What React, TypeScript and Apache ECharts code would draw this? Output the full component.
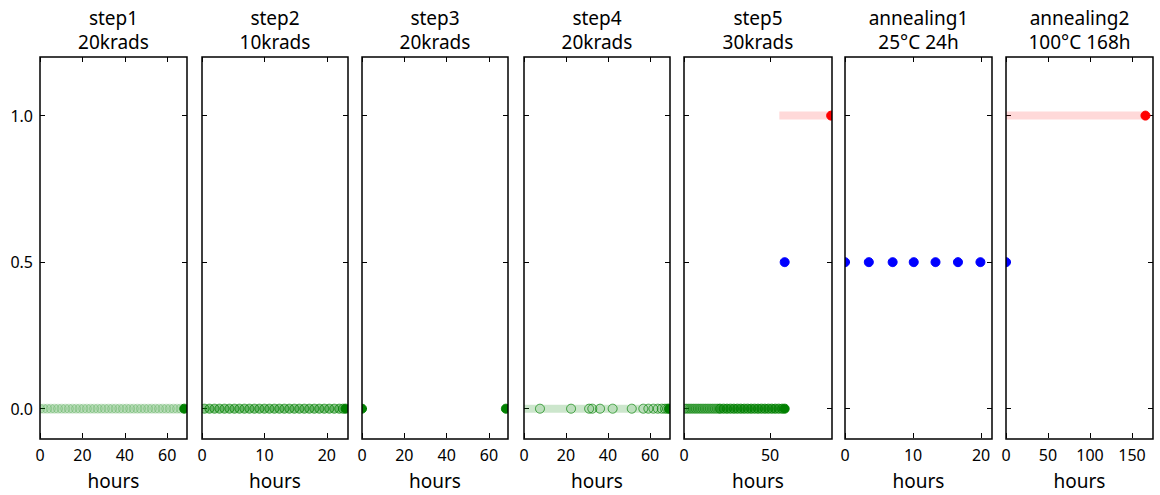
import React, { useEffect, useRef } from "react";
import * as echarts from "echarts";

// ---------- data ----------
const panelTitles = [
  "step1\n20krads",
  "step2\n10krads",
  "step3\n20krads",
  "step4\n20krads",
  "step5\n30krads",
  "annealing1\n25°C 24h",
  "annealing2\n100°C 168h",
];
const xMaxes = [69.3, 23.4, 69, 69.5, 86, 21.6, 175];
const xTickValues = [
  [0, 20, 40, 60],
  [0, 10, 20],
  [0, 20, 40, 60],
  [0, 20, 40, 60],
  [0, 50],
  [0, 10, 20],
  [0, 50, 100, 150],
];
const yTickValues = [0, 0.5, 1.0];
const yMin = -0.1;
const yMax = 1.2;
const xAxisName = "hours";

// status levels
const LEVEL_OK = 0;
const LEVEL_MID = 0.5;
const LEVEL_FAIL = 1.0;

// step1
const step1Band = [0, 68];
const step1Faint = [0, 1.7, 3.4, 5.1, 6.8, 8.5, 10.2, 11.9, 13.6, 15.3, 17, 18.7, 20.4, 22.1, 23.8, 25.5, 27.2, 28.9, 30.6, 32.3, 34, 35.7, 37.4, 39.1, 40.8, 42.5, 44.2, 45.9, 47.6, 49.3, 51, 52.7, 54.4, 56.1, 57.8, 59.5, 61.2, 62.9, 64.6, 66.3];
const step1End = [68];
// step2
const step2Band = [0, 23];
const step2Points = [0.4, 1.2, 2.0, 2.8, 3.6, 4.4, 5.2, 6.0, 6.8, 7.6, 8.4, 9.2, 10.0, 10.8, 11.6, 12.4, 13.2, 14.0, 14.8, 15.6, 16.4, 17.2, 18.0, 18.8, 19.6, 20.4, 21.2, 22.0, 22.6];
const step2End = [23];
// step3
const step3Points = [0, 68];
// step4
const step4Band = [0, 69.5];
const step4Points = [7.6, 22.4, 31, 32.5, 36.2, 42.2, 51.3, 56.8, 59.2, 61.6, 63.7, 65.6, 67.1, 68.2];
const step4End = [69];
// step5
const step5Band = [0, 58.5];
const step5Light = [0, 1, 2, 3, 4, 5, 6, 7, 8, 9, 10, 11, 12, 13, 14, 15, 16, 17, 18, 19, 20];
const step5Dark = [21, 23, 25, 27, 29, 31, 33, 35, 37, 39, 41, 43, 45, 47, 49, 51, 53, 55, 57];
const step5End = [58.5];
const step5Mid = [58.5];
const step5FailBand = [55.4, 86];
const step5Fail = [85.5];
// annealing1
const anneal1Mid = [0, 3.5, 7, 10.1, 13.3, 16.6, 19.9];
// annealing2
const anneal2Mid = [0];
const anneal2FailBand = [0, 166];
const anneal2Fail = [166];

// ---------- layout / style ----------
const gridLefts = [40, 202, 362, 524, 684, 845, 1006];
const gridWidths = [147, 146, 146, 146, 148, 147, 147];
const gridTop = 57;
const gridHeight = 382;

const GREEN = "0,128,0";
const BLUE = "0,0,255";
const RED = "255,0,0";
const FONT = '"Noto Sans", "Open Sans", sans-serif';

type Band = { panel: number; xs: number[]; y: number; rgb: string; opacity: number };
type Dots = { panel: number; xs: number[]; y: number; rgb: string; fill: number; edge: number };

const bands: Band[] = [
  { panel: 0, xs: step1Band, y: LEVEL_OK, rgb: GREEN, opacity: 0.2 },
  { panel: 1, xs: step2Band, y: LEVEL_OK, rgb: GREEN, opacity: 0.2 },
  { panel: 3, xs: step4Band, y: LEVEL_OK, rgb: GREEN, opacity: 0.2 },
  { panel: 4, xs: step5Band, y: LEVEL_OK, rgb: GREEN, opacity: 0.12 },
  { panel: 4, xs: step5FailBand, y: LEVEL_FAIL, rgb: RED, opacity: 0.15 },
  { panel: 6, xs: anneal2FailBand, y: LEVEL_FAIL, rgb: RED, opacity: 0.15 },
];

const dots: Dots[] = [
  { panel: 0, xs: step1Faint, y: LEVEL_OK, rgb: GREEN, fill: 0.05, edge: 0.2 },
  { panel: 0, xs: step1End, y: LEVEL_OK, rgb: GREEN, fill: 1, edge: 1 },
  { panel: 1, xs: step2Points, y: LEVEL_OK, rgb: GREEN, fill: 0.3, edge: 0.75 },
  { panel: 1, xs: step2End, y: LEVEL_OK, rgb: GREEN, fill: 1, edge: 1 },
  { panel: 2, xs: step3Points, y: LEVEL_OK, rgb: GREEN, fill: 1, edge: 1 },
  { panel: 3, xs: step4Points, y: LEVEL_OK, rgb: GREEN, fill: 0.08, edge: 0.7 },
  { panel: 3, xs: step4End, y: LEVEL_OK, rgb: GREEN, fill: 1, edge: 1 },
  { panel: 4, xs: step5Light, y: LEVEL_OK, rgb: GREEN, fill: 0.15, edge: 0.45 },
  { panel: 4, xs: step5Dark, y: LEVEL_OK, rgb: GREEN, fill: 0.55, edge: 0.9 },
  { panel: 4, xs: step5End, y: LEVEL_OK, rgb: GREEN, fill: 1, edge: 1 },
  { panel: 4, xs: step5Mid, y: LEVEL_MID, rgb: BLUE, fill: 1, edge: 1 },
  { panel: 4, xs: step5Fail, y: LEVEL_FAIL, rgb: RED, fill: 1, edge: 1 },
  { panel: 5, xs: anneal1Mid, y: LEVEL_MID, rgb: BLUE, fill: 1, edge: 1 },
  { panel: 6, xs: anneal2Mid, y: LEVEL_MID, rgb: BLUE, fill: 1, edge: 1 },
  { panel: 6, xs: anneal2Fail, y: LEVEL_FAIL, rgb: RED, fill: 1, edge: 1 },
];

function buildOption() {
  const grid: any[] = [];
  const xAxis: any[] = [];
  const yAxis: any[] = [];
  const n = panelTitles.length;
  for (let i = 0; i < n; i++) {
    grid.push({ left: gridLefts[i], top: gridTop, width: gridWidths[i], height: gridHeight, show: false });
    const tickStyle = { show: true, inside: true, length: 5, lineStyle: { color: "#000", width: 1 }, customValues: xTickValues[i] };
    xAxis.push({
      type: "value",
      gridIndex: i,
      min: 0,
      max: xMaxes[i],
      position: "bottom",
      splitLine: { show: false },
      axisLine: { show: false, onZero: false },
      axisTick: tickStyle,
      axisLabel: {
        show: true,
        customValues: xTickValues[i],
        color: "#000",
        fontSize: 16,
        fontFamily: FONT,
        margin: 9,
      },
      name: xAxisName,
      nameLocation: "middle",
      nameGap: 33,
      nameTextStyle: { color: "#000", fontSize: 19, fontFamily: FONT },
    });
    xAxis.push({
      type: "value",
      gridIndex: i,
      min: 0,
      max: xMaxes[i],
      position: "top",
      splitLine: { show: false },
      axisLine: { show: false, onZero: false },
      axisTick: tickStyle,
      axisLabel: { show: false },
    });
    const yTick = { show: true, inside: true, length: 5, lineStyle: { color: "#000", width: 1 }, customValues: yTickValues };
    yAxis.push({
      type: "value",
      gridIndex: i,
      min: yMin,
      max: yMax,
      position: "left",
      splitLine: { show: false },
      axisLine: { show: false, onZero: false },
      axisTick: yTick,
      axisLabel: {
        show: i === 0,
        customValues: yTickValues,
        formatter: (v: number) => v.toFixed(1),
        color: "#000",
        fontSize: 16,
        fontFamily: FONT,
        margin: 7,
      },
    });
    yAxis.push({
      type: "value",
      gridIndex: i,
      min: yMin,
      max: yMax,
      position: "right",
      splitLine: { show: false },
      axisLine: { show: false, onZero: false },
      axisTick: yTick,
      axisLabel: { show: false },
    });
  }

  const series: any[] = [];
  bands.forEach((b) => {
    series.push({
      type: "line",
      xAxisIndex: b.panel * 2,
      yAxisIndex: b.panel * 2,
      data: b.xs.map((x) => [x, b.y]),
      showSymbol: false,
      symbol: "none",
      lineStyle: { color: `rgba(${b.rgb},${b.opacity})`, width: 8, cap: "butt", opacity: 1 },
      silent: true,
      z: 1,
    });
  });
  dots.forEach((d) => {
    series.push({
      type: "scatter",
      xAxisIndex: d.panel * 2,
      yAxisIndex: d.panel * 2,
      data: d.xs.map((x) => [x, d.y]),
      symbol: "circle",
      symbolSize: 9,
      clip: false,
      itemStyle: {
        color: `rgba(${d.rgb},${d.fill})`,
        borderColor: `rgba(${d.rgb},${d.edge})`,
        borderWidth: 1,
        opacity: 1,
      },
      emphasis: { disabled: true },
      z: 3,
    });
  });

  const graphic: any[] = [];
  // white masks in the gaps (clip markers at panel edges)
  const maskEdges: number[][] = [];
  maskEdges.push([34, gridLefts[0]]);
  for (let i = 0; i < n - 1; i++) {
    maskEdges.push([gridLefts[i] + gridWidths[i], gridLefts[i + 1]]);
  }
  maskEdges.push([gridLefts[n - 1] + gridWidths[n - 1], 1160]);
  maskEdges.forEach(([a, b]) => {
    graphic.push({
      type: "rect",
      z: 100,
      silent: true,
      shape: { x: a, y: gridTop - 6, width: b - a, height: gridHeight + 12 },
      style: { fill: "#fff" },
    });
  });
  for (let i = 0; i < n; i++) {
    graphic.push({
      type: "rect",
      z: 101,
      silent: true,
      shape: { x: gridLefts[i], y: gridTop, width: gridWidths[i], height: gridHeight },
      style: { fill: "none", stroke: "#000", lineWidth: 1.5 },
    });
    graphic.push({
      type: "text",
      z: 101,
      x: gridLefts[i] + gridWidths[i] / 2,
      y: 6,
      style: {
        text: panelTitles[i],
        fontSize: 19,
        fontFamily: FONT,
        fill: "#000",
        align: "center",
        verticalAlign: "top",
        lineHeight: 24,
      },
    });
  }

  return {
    animation: false,
    backgroundColor: "#fff",
    grid,
    xAxis,
    yAxis,
    series,
    graphic,
  };
}

export default function App() {
  const ref = useRef<HTMLDivElement>(null);
  useEffect(() => {
    if (!ref.current) return;
    const chart = echarts.init(ref.current, undefined, { renderer: "svg" });
    chart.setOption(buildOption());
    return () => chart.dispose();
  }, []);
  return (
    <div
      ref={ref}
      style={{ position: "absolute", left: 0, top: 0, width: 1160, height: 495, background: "#fff" }}
    />
  );
}
